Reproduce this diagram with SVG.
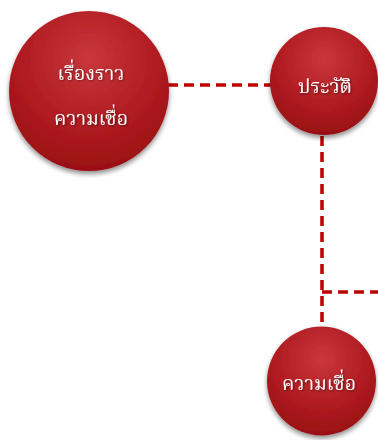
<svg xmlns="http://www.w3.org/2000/svg" width="378" height="440" viewBox="0 0 378 440">
<style>
.conn{fill:none;stroke:#c00000;stroke-width:3.5;stroke-dasharray:10 6}
.ball{fill:url(#g);filter:url(#sh)}
.lbl{fill:#ffffff;font-family:"Noto Serif Thai","Noto Sans Thai","Liberation Serif","DejaVu Serif",serif;font-size:19.5px;text-anchor:middle;filter:url(#ts)}
</style>
<defs>
<radialGradient id="g" cx="0.5" cy="0.3" r="0.7">
<stop offset="0" stop-color="#c9373b"/>
<stop offset="0.6" stop-color="#b01c21"/>
<stop offset="1" stop-color="#9a1014"/>
</radialGradient>
<filter id="sh" x="-20%" y="-20%" width="140%" height="150%">
<feGaussianBlur in="SourceAlpha" stdDeviation="2.5"/>
<feOffset dy="3" result="b"/>
<feComponentTransfer><feFuncA type="linear" slope="0.45"/></feComponentTransfer>
<feMerge><feMergeNode/><feMergeNode in="SourceGraphic"/></feMerge>
</filter>
<filter id="ts" x="-10%" y="-30%" width="120%" height="160%">
<feGaussianBlur in="SourceAlpha" stdDeviation="1"/>
<feOffset dx="1" dy="1"/>
<feComponentTransfer><feFuncA type="linear" slope="0.5"/></feComponentTransfer>
<feMerge><feMergeNode/><feMergeNode in="SourceGraphic"/></feMerge>
</filter>
</defs>
<g id="connectors">
<line class="conn" x1="168" y1="85" x2="272" y2="85"/>
<line class="conn" x1="322" y1="136" x2="322" y2="328"/>
<line class="conn" x1="322" y1="292" x2="378" y2="292"/>
</g>
<g id="node-story">
<circle class="ball" cx="89" cy="91" r="80"/>
<text class="lbl" x="91" y="80">เรื่องราว</text>
<text class="lbl" x="91" y="125">ความเชื่อ</text>
</g>
<g id="node-history">
<circle class="ball" cx="324" cy="81" r="54"/>
<text class="lbl" x="325" y="93">ประวัติ</text>
</g>
<g id="node-belief">
<circle class="ball" cx="321.5" cy="381" r="54.5"/>
<text class="lbl" x="319" y="390">ความเชื่อ</text>
</g>
</svg>
